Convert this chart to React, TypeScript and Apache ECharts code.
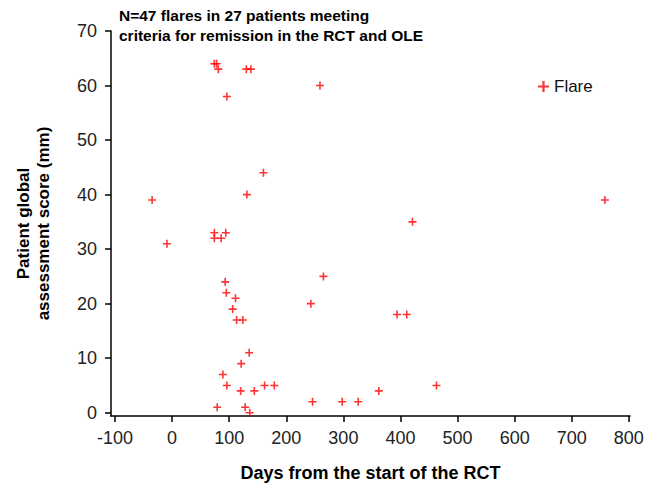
import React, { useEffect, useRef } from "react";
import * as echarts from "echarts";

const xTicks = [-100, 0, 100, 200, 300, 400, 500, 600, 700, 800];
const yTicks = [0, 10, 20, 30, 40, 50, 60, 70];

const days = [
  74, 78, 81, 130, 138, 259, 96, 160, 131, -35, 758, 421, 74, 94, 74, 86, -9, 265,
  93, 95, 111, 243, 106, 113, 124, 394, 411, 135, 121, 89, 96, 162, 179, 463, 120,
  144, 362, 79, 128, 136, 246, 298, 326,
];
const scores = [
  64, 64, 63, 63, 63, 60, 58, 44, 40, 39, 39, 35, 33, 33, 32, 32, 31, 25,
  24, 22, 21, 20, 19, 17, 17, 18, 18, 11, 9, 7, 5, 5, 5, 5, 4,
  4, 4, 1, 1, 0, 2, 2, 2,
];

const plus = "path://M-1,-5L1,-5L1,-1L5,-1L5,1L1,1L1,5L-1,5L-1,1L-5,1L-5,-1L-1,-1Z";
const FONT = "'Liberation Sans', Arial, sans-serif";

export default function App() {
  const ref = useRef<HTMLDivElement>(null);
  useEffect(() => {
    document.body.style.margin = "0";
    const chart = echarts.init(ref.current!, null, { renderer: "svg" });
    const data = days.map((d, i) => [d, scores[i]]);
    chart.setOption({
      animation: false,
      textStyle: { fontFamily: FONT },
      title: {
        text: "N=47 flares in 27 patients meeting\ncriteria for remission in the RCT and OLE",
        left: 119,
        top: 5,
        padding: 0,
        textStyle: { fontSize: 15.5, fontWeight: "bold", color: "#000", lineHeight: 20, fontFamily: FONT },
      },
      legend: {
        left: 533,
        top: 73,
        itemWidth: 11,
        itemHeight: 11,
        data: [{ name: "Flare", icon: plus }],
        textStyle: { fontSize: 17, color: "#111", fontFamily: FONT },
      },
      grid: { left: 111, right: 24, top: 31, bottom: 68, containLabel: false, outerBoundsMode: "none" },
      xAxis: {
        type: "value",
        min: -107,
        max: 802,
        name: "Days from the start of the RCT",
        nameLocation: "middle",
        nameGap: 48,
        nameTextStyle: { fontSize: 18, fontWeight: "bold", color: "#000", fontFamily: FONT },
        axisLine: { show: true, onZero: false, lineStyle: { color: "#000", width: 1.5 } },
        axisTick: { show: true, length: 6, customValues: xTicks, lineStyle: { color: "#000", width: 1.5 } },
        axisLabel: { customValues: xTicks, fontSize: 18, color: "#222", margin: 13, fontFamily: FONT },
        splitLine: { show: false },
      },
      yAxis: {
        type: "value",
        min: -0.6,
        max: 70,
        name: "Patient global\nassessment score (mm)",
        nameLocation: "middle",
        nameGap: 58,
        nameTextStyle: { fontSize: 17, fontWeight: "bold", color: "#000", lineHeight: 20, fontFamily: FONT },
        axisLine: { show: true, onZero: false, lineStyle: { color: "#000", width: 1.5 } },
        axisTick: { show: true, length: 6, customValues: yTicks, lineStyle: { color: "#000", width: 1.5 } },
        axisLabel: { customValues: yTicks, fontSize: 18, color: "#222", margin: 14, fontFamily: FONT },
        splitLine: { show: false },
      },
      series: [
        {
          name: "Flare",
          type: "scatter",
          symbol: plus,
          symbolSize: 8,
          itemStyle: { color: "#ff0000" },
          data,
        },
      ],
    });
    return () => chart.dispose();
  }, []);
  return <div ref={ref} style={{ width: 654, height: 484 }} />;
}
